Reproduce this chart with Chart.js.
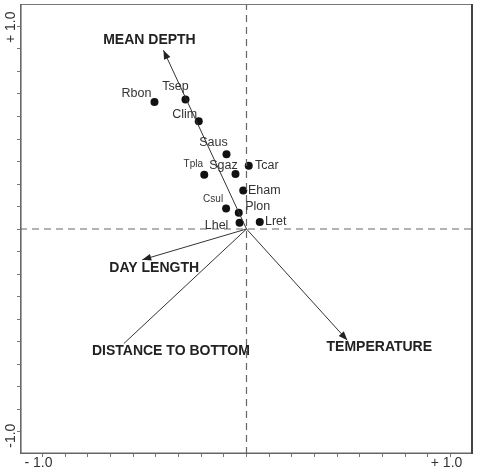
<!DOCTYPE html>
<html>
<head>
<meta charset="utf-8">
<script src="https://cdn.jsdelivr.net/npm/chart.js@4.4.0/dist/chart.umd.min.js"></script>
<style>
  body { margin: 0; background: #fff; }
  #wrap { width: 477px; height: 474px; }
</style>
</head>
<body>
<div id="wrap"><canvas id="biplot"></canvas></div>
<script>
// species scores
const species = ['Rbon', 'Tsep', 'Clim', 'Saus', 'Sgaz', 'Tpla', 'Tcar', 'Eham', 'Csul', 'Plon', 'Lhel', 'Lret'];
const speciesX = [-0.451, -0.299, -0.234, -0.098, -0.054, -0.207, 0.011, -0.016, -0.100, -0.038, -0.034, 0.065];
const speciesY = [0.626, 0.639, 0.531, 0.369, 0.271, 0.268, 0.312, 0.190, 0.101, 0.080, 0.031, 0.034];

// environmental variables (arrow tips)
const envVars = ['MEAN DEPTH', 'DAY LENGTH', 'DISTANCE TO BOTTOM', 'TEMPERATURE'];
const envX = [-0.407, -0.511, -0.601, 0.494];
const envY = [0.882, -0.152, -0.565, -0.549];

// axes
const axisMin = -1.11;
const axisMax = 1.11;
const tickValues = [-1, -0.889, -0.778, -0.667, -0.556, -0.444, -0.333, -0.222, -0.111, 0,
                    0.111, 0.222, 0.333, 0.444, 0.556, 0.667, 0.778, 0.889, 1];
const labelledTicks = [-1, 1];
const xTickText = ['- 1.0', '+ 1.0'];
const yTickText = ['-1.0', '+ 1.0'];

// label placement relative to the mark, in px (by eye)
const speciesLabelPos = {
  Rbon: [-18, -9], Tsep: [-10, -13], Clim: [-14, -7], Saus: [-13, -12],
  Sgaz: [-12, -9], Tpla: [-11, -10], Tcar: [18, 0], Eham: [21, 0],
  Csul: [-13, -9], Plon: [19, -6], Lhel: [-23, 3], Lret: [16, -1]
};
const smallLabels = ['Tpla', 'Csul'];
const envLabelPos = {
  'MEAN DEPTH': [-14, -10],
  'DAY LENGTH': [12, 8],
  'DISTANCE TO BOTTOM': [47, 8],
  'TEMPERATURE': [32, 7]
};
const noHead = ['DISTANCE TO BOTTOM'];
const yLabelShift = [4, 1];

const FONT = '"Liberation Sans", Arial, Helvetica, sans-serif';
const lineColor = '#333';

let datasets = [];

// dashed zero lines
datasets.push({
  type: 'line', showLine: true,
  data: [{x: 0, y: axisMin}, {x: 0, y: axisMax}],
  borderColor: '#666', borderWidth: 1.2, borderDash: [7, 5], pointRadius: 0
});
datasets.push({
  type: 'line', showLine: true,
  data: [{x: axisMin, y: 0}, {x: axisMax, y: 0}],
  borderColor: '#666', borderWidth: 1.2, borderDash: [7, 5], pointRadius: 0
});

// arrows
for (let i = 0; i < envVars.length; i++) {
  datasets.push({
    type: 'line', showLine: true, label: envVars[i],
    data: [{x: 0, y: 0}, {x: envX[i], y: envY[i]}],
    borderColor: lineColor, borderWidth: 1, pointRadius: 0
  });
}

// species points
datasets.push({
  type: 'scatter', label: 'species',
  data: species.map((s, i) => ({x: speciesX[i], y: speciesY[i]})),
  backgroundColor: '#111', borderWidth: 0, pointRadius: 4
});

const decorPlugin = {
  id: 'decor',
  afterDatasetsDraw(chart) {
    const ctx = chart.ctx;
    const xs = chart.scales.x, ys = chart.scales.y;
    const area = chart.chartArea;
    ctx.save();

    // frame
    ctx.strokeStyle = '#777';
    ctx.lineWidth = 1;
    ctx.beginPath();
    ctx.moveTo(area.left, area.top + 0.5);
    ctx.lineTo(area.right, area.top + 0.5);
    ctx.stroke();
    ctx.strokeStyle = '#666';
    ctx.lineWidth = 1.6;
    ctx.beginPath();
    ctx.moveTo(area.left + 0.8, area.top);
    ctx.lineTo(area.left + 0.8, area.bottom - 0.8);
    ctx.lineTo(area.right, area.bottom - 0.8);
    ctx.stroke();
    ctx.strokeStyle = '#444';
    ctx.lineWidth = 2;
    ctx.beginPath();
    ctx.moveTo(area.right - 1, area.top);
    ctx.lineTo(area.right - 1, area.bottom);
    ctx.stroke();

    // arrowheads + labels
    const ox = xs.getPixelForValue(0), oy = ys.getPixelForValue(0);
    ctx.fillStyle = '#222';
    ctx.font = 'bold 14px ' + FONT;
    ctx.textAlign = 'center';
    ctx.textBaseline = 'middle';
    for (let i = 0; i < envVars.length; i++) {
      const tx = xs.getPixelForValue(envX[i]), ty = ys.getPixelForValue(envY[i]);
      if (noHead.indexOf(envVars[i]) < 0) {
        const a = Math.atan2(ty - oy, tx - ox);
        const len = 9, hw = 3.5;
        ctx.beginPath();
        ctx.moveTo(tx, ty);
        ctx.lineTo(tx - len * Math.cos(a) + hw * Math.sin(a), ty - len * Math.sin(a) - hw * Math.cos(a));
        ctx.lineTo(tx - len * Math.cos(a) - hw * Math.sin(a), ty - len * Math.sin(a) + hw * Math.cos(a));
        ctx.closePath();
        ctx.fill();
      }
      const off = envLabelPos[envVars[i]];
      ctx.fillText(envVars[i], tx + off[0], ty + off[1]);
    }

    // species labels
    for (let i = 0; i < species.length; i++) {
      const px = xs.getPixelForValue(speciesX[i]), py = ys.getPixelForValue(speciesY[i]);
      const off = speciesLabelPos[species[i]];
      ctx.font = (smallLabels.indexOf(species[i]) >= 0 ? '10px ' : '12.5px ') + FONT;
      ctx.fillStyle = '#333';
      ctx.fillText(species[i], px + off[0], py + off[1]);
    }

    // axis tick labels
    ctx.font = '14px ' + FONT;
    ctx.fillStyle = '#333';
    for (let i = 0; i < labelledTicks.length; i++) {
      const px = xs.getPixelForValue(labelledTicks[i]);
      ctx.fillText(xTickText[i], px - 4, area.bottom + 9);
      const py = ys.getPixelForValue(labelledTicks[i]);
      ctx.save();
      ctx.translate(area.left - 9, py + yLabelShift[i]);
      ctx.rotate(-Math.PI / 2);
      ctx.fillText(yTickText[i], 0, 0);
      ctx.restore();
    }
    ctx.restore();
  }
};

const axisOpts = (fitKey) => ({
  type: 'linear',
  min: axisMin, max: axisMax,
  afterBuildTicks: (scale) => { scale.ticks = tickValues.map(v => ({value: v})); },
  afterFit: (scale) => { scale[fitKey] = 20; },
  ticks: {display: false},
  border: {display: false},
  grid: {drawOnChartArea: false, drawTicks: true, tickLength: 3, color: '#777'}
});

new Chart(document.getElementById('biplot'), {
  type: 'scatter',
  data: {datasets: datasets},
  options: {
    responsive: true,
    maintainAspectRatio: false,
    animation: false,
    layout: {padding: {top: 2, right: 4, left: 0, bottom: 0}},
    plugins: {legend: {display: false}, tooltip: {enabled: false}},
    scales: {
      x: axisOpts('height'),
      y: axisOpts('width')
    }
  },
  plugins: [decorPlugin]
});
</script>
</body>
</html>
